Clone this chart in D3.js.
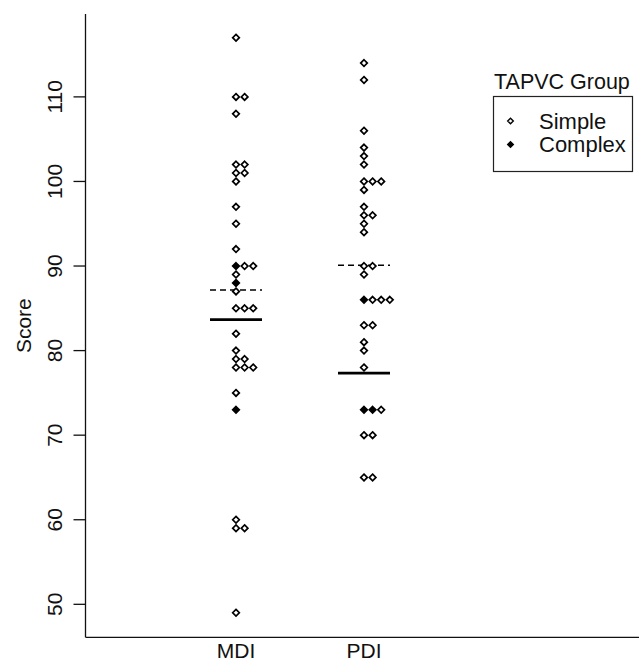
<!DOCTYPE html>
<html>
<head>
<meta charset="utf-8">
<script src="https://cdn.jsdelivr.net/npm/d3@7"></script>
<style>
  body { margin: 0; background: #fff; }
  text { font-family: "Liberation Sans", Arial, sans-serif; fill: #111; }
</style>
</head>
<body>
<script>
// scores, per test and TAPVC group
var categories = ["MDI", "PDI"];
var mdiSimple = [117, 110, 110, 108, 102, 102, 101, 101, 100, 97, 95, 92, 90, 90, 89, 87,
                 85, 85, 85, 82, 80, 79, 79, 78, 78, 78, 75, 60, 59, 59, 49];
var mdiComplex = [90, 88, 73];
var pdiSimple = [114, 112, 106, 104, 103, 102, 100, 100, 100, 99, 97, 96, 96, 95, 94, 90,
                 90, 89, 86, 86, 86, 83, 83, 81, 80, 78, 73, 70, 70, 65, 65];
var pdiComplex = [86, 73, 73];
var yTicks = [50, 60, 70, 80, 90, 100, 110];
var groups = ["Simple", "Complex"];

var width = 639,
    height = 661;

var svg = d3.select("body").append("svg")
  .attr("width", width)
  .attr("height", height);

var x = d3.scalePoint()
  .domain(categories)
  .range([236, 364]);

var y = d3.scaleLinear()
  .domain([46.1, 119.8])
  .range([637.3, 14]);

var stackStep = 8.6;

// build points, complex first so they sit at the base of each stack (like stripchart)
var series = {
  MDI: {Simple: mdiSimple, Complex: mdiComplex},
  PDI: {Simple: pdiSimple, Complex: pdiComplex}
};
var points = [];
categories.forEach(function(cat) {
  var counts = {};
  ["Complex", "Simple"].forEach(function(g) {
    series[cat][g].forEach(function(v) {
      var k = counts[v] || 0;
      counts[v] = k + 1;
      points.push({cat: cat, group: g, value: v, k: k});
    });
  });
});

// axes
var yAxis = svg.append("g")
  .attr("transform", "translate(85.5,0)");
yAxis.append("line")
  .attr("y1", 14).attr("y2", 637.3)
  .attr("stroke", "#111").attr("stroke-width", 1.3);
yAxis.selectAll(".tick")
  .data(yTicks)
  .enter()
.append("line")
  .attr("x1", -12).attr("x2", 0)
  .attr("y1", function(d) {return y(d);})
  .attr("y2", function(d) {return y(d);})
  .attr("stroke", "#111").attr("stroke-width", 1.3);
yAxis.selectAll(".lab")
  .data(yTicks)
  .enter()
.append("text")
  .attr("transform", function(d) {return "translate(-24," + y(d) + ") rotate(-90)";})
  .attr("text-anchor", "middle")
  .style("font-size", "21px")
  .text(function(d) {return d;});

svg.append("line")
  .attr("x1", 85.5).attr("x2", width)
  .attr("y1", 637.3).attr("y2", 637.3)
  .attr("stroke", "#111").attr("stroke-width", 1.3);

svg.selectAll(".xlab")
  .data(categories)
  .enter()
.append("text")
  .attr("x", function(d) {return x(d);})
  .attr("y", 658)
  .attr("text-anchor", "middle")
  .style("font-size", "21px")
  .text(function(d) {return d;});

svg.append("text")
  .attr("transform", "translate(31," + (14 + 637.3) / 2 + ") rotate(-90)")
  .attr("text-anchor", "middle")
  .style("font-size", "21px")
  .text("Score");

// group means: dashed = simple, solid = complex
var means = [];
categories.forEach(function(cat) {
  means.push({cat: cat, group: "Simple", value: d3.mean(series[cat].Simple)});
  means.push({cat: cat, group: "Complex", value: d3.mean(series[cat].Complex)});
});
svg.append("g")
  .selectAll("line")
  .data(means)
  .enter()
.append("line")
  .attr("x1", function(d) {return x(d.cat) - 26;})
  .attr("x2", function(d) {return x(d.cat) + 26;})
  .attr("y1", function(d) {return y(d.value);})
  .attr("y2", function(d) {return y(d.value);})
  .attr("stroke", "#000")
  .attr("stroke-width", function(d) {return d.group == "Simple" ? 1.6 : 2.7;})
  .attr("stroke-dasharray", function(d) {return d.group == "Simple" ? "6,4" : null;});

// diamonds
function diamond(r) {
  return "M0," + (-r) + "L" + r + ",0L0," + r + "L" + (-r) + ",0Z";
}

svg.append("g")
  .selectAll("path")
  .data(points)
  .enter()
.append("path")
  .attr("d", diamond(3.3))
  .attr("transform", function(d) {
    return "translate(" + (x(d.cat) + d.k * stackStep) + "," + y(d.value) + ")";
  })
  .attr("fill", function(d) {return d.group == "Complex" ? "#000" : "#fff";})
  .attr("stroke", "#000")
  .attr("stroke-width", 1.7);

// legend
var legend = svg.append("g");
legend.append("text")
  .attr("x", 494)
  .attr("y", 89)
  .style("font-size", "21.5px")
  .text("TAPVC Group");
legend.append("rect")
  .attr("x", 493.5).attr("y", 96.5)
  .attr("width", 139).attr("height", 75)
  .attr("fill", "none")
  .attr("stroke", "#222").attr("stroke-width", 1.2);

var item = legend.selectAll(".item")
  .data(groups)
  .enter()
.append("g")
  .attr("transform", function(d, i) {return "translate(0," + (121 + i * 23.5) + ")";});
item.append("path")
  .attr("d", diamond(2.8))
  .attr("transform", "translate(510.5,0)")
  .attr("fill", function(d) {return d == "Complex" ? "#000" : "#fff";})
  .attr("stroke", "#000")
  .attr("stroke-width", 1.4);
item.append("text")
  .attr("x", 539)
  .attr("y", 7.5)
  .style("font-size", "22px")
  .text(function(d) {return d;});
</script>
</body>
</html>
